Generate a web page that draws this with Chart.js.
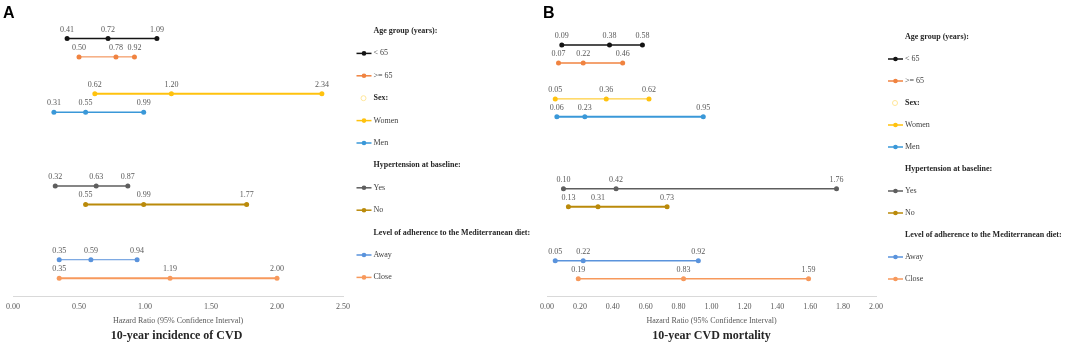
<!DOCTYPE html>
<html lang="en">
<head>
<meta charset="UTF-8" />
<title>Hazard ratios - CVD incidence and mortality</title>
<script src="https://cdn.jsdelivr.net/npm/chart.js"></script>
<style>
  body { margin: 0; background: #fff; width: 1065px; height: 344px; position: relative; overflow: hidden; }
  canvas { position: absolute; top: 0; }
  .tag { position: absolute; top: 5px; font: bold 16px "Liberation Sans", Arial, sans-serif; line-height: 16px; color: #000; }
</style>
</head>
<body>
<canvas id="chartA" width="545" height="344" style="left:0"></canvas>
<canvas id="chartB" width="535" height="344" style="left:530px"></canvas>
<div class="tag" style="left:3px">A</div>
<div class="tag" style="left:543px">B</div>
<script>
  // rows of the plot, blanks are spacing between groups
  const rowLabels = ['< 65', '>= 65', '', 'Women', 'Men', '', '', '', 'Yes', 'No', '', '', 'Away', 'Close'];
  const seriesNames = ['< 65', '>= 65', 'Women', 'Men', 'Yes', 'No', 'Away', 'Close'];
  const groupTitles = ['Age group (years):', 'Sex:', 'Hypertension at baseline:', 'Level of adherence to the Mediterranean diet:'];

  // 10-year incidence of CVD: HR with 95% CI
  const incLower = [0.41, 0.50, 0.62, 0.31, 0.32, 0.55, 0.35, 0.35];
  const incHR    = [0.72, 0.78, 1.20, 0.55, 0.63, 0.99, 0.59, 1.19];
  const incUpper = [1.09, 0.92, 2.34, 0.99, 0.87, 1.77, 0.94, 2.00];

  // 10-year CVD mortality: HR with 95% CI
  const mortLower = [0.09, 0.07, 0.05, 0.06, 0.10, 0.13, 0.05, 0.19];
  const mortHR    = [0.38, 0.22, 0.36, 0.23, 0.42, 0.31, 0.22, 0.83];
  const mortUpper = [0.58, 0.46, 0.62, 0.95, 1.76, 0.73, 0.92, 1.59];

  const colors = ['#141414', '#F08340', '#FFC20E', '#3A98D8', '#5E5E5E', '#BA8A0A', '#5A93DC', '#F7995C'];
  const widthsA = [1.5, 1, 2, 1.5, 1.5, 2, 1, 2];
  const widthsB = [1.5, 1.5, 1, 2, 1.5, 2, 1.5, 1.5];

  const serif = '"Liberation Serif", "Times New Roman", serif';

  function buildDatasets(lower, hr, upper, widths) {
    return seriesNames.map((name, i) => {
      const row = rowLabels.indexOf(name);
      return {
        label: name,
        data: [
          { x: lower[i], y: row },
          { x: hr[i], y: row },
          { x: upper[i], y: row }
        ],
        showLine: true,
        borderColor: colors[i],
        backgroundColor: colors[i],
        borderWidth: widths[i],
        pointRadius: 2.5,
        pointBorderWidth: 0,
        pointHoverRadius: 2.5
      };
    });
  }

  // numbers above every point
  const valueLabels = {
    id: 'valueLabels',
    afterDatasetsDraw(chart) {
      const ctx = chart.ctx;
      ctx.save();
      ctx.font = '8px ' + serif;
      ctx.fillStyle = '#595959';
      ctx.textAlign = 'center';
      ctx.textBaseline = 'middle';
      chart.data.datasets.forEach((ds, i) => {
        chart.getDatasetMeta(i).data.forEach((pt, j) => {
          ctx.fillText(ds.data[j].x.toFixed(2), pt.x, pt.y - 9);
        });
      });
      ctx.restore();
    }
  };

  // legend on the right with group headings
  const sideLegend = {
    id: 'sideLegend',
    afterDraw(chart, args, opts) {
      const ctx = chart.ctx;
      const area = chart.chartArea;
      const x0 = area.right + opts.offset;
      let y = area.top + opts.first;
      ctx.save();
      ctx.textAlign = 'left';
      ctx.textBaseline = 'middle';
      groupTitles.forEach((title, g) => {
        ctx.font = 'bold 8px ' + serif;
        ctx.fillStyle = '#262626';
        ctx.fillText(title, x0 + 17, y);
        if (g === 1) {
          ctx.strokeStyle = '#FFE699';
          ctx.lineWidth = 1;
          ctx.beginPath();
          ctx.arc(x0 + 7, y, 2.5, 0, Math.PI * 2);
          ctx.stroke();
        }
        y += opts.step;
        [2 * g, 2 * g + 1].forEach(i => {
          const ds = chart.data.datasets[i];
          ctx.strokeStyle = ds.borderColor;
          ctx.fillStyle = ds.borderColor;
          ctx.lineWidth = 1.5;
          ctx.beginPath();
          ctx.moveTo(x0, y);
          ctx.lineTo(x0 + 15, y);
          ctx.stroke();
          ctx.beginPath();
          ctx.arc(x0 + 7.5, y, 2.3, 0, Math.PI * 2);
          ctx.fill();
          ctx.font = '8px ' + serif;
          ctx.fillStyle = '#404040';
          ctx.fillText(ds.label, x0 + 17, y);
          y += opts.step;
        });
      });
      ctx.restore();
    }
  };

  function makeChart(id, datasets, cfg) {
    return new Chart(document.getElementById(id), {
      type: 'scatter',
      data: { datasets },
      options: {
        responsive: false,
        animation: false,
        events: [],
        layout: { padding: cfg.padding },
        plugins: {
          legend: { display: false },
          tooltip: { enabled: false },
          title: {
            display: true,
            position: 'bottom',
            text: cfg.title,
            color: '#262626',
            font: { family: serif, size: 12, weight: 'bold' },
            padding: { top: 4, bottom: 0 }
          },
          sideLegend: cfg.legend
        },
        scales: {
          x: {
            type: 'linear',
            min: 0,
            max: cfg.max,
            grid: { display: false, drawTicks: false },
            border: { color: '#D9D9D9', width: 1 },
            ticks: {
              stepSize: cfg.step,
              autoSkip: false,
              maxRotation: 0,
              padding: 6,
              color: '#595959',
              font: { family: serif, size: 8, lineHeight: 1 },
              callback: v => v.toFixed(2)
            },
            title: {
              display: true,
              text: 'Hazard Ratio (95% Confidence Interval)',
              color: '#595959',
              font: { family: serif, size: 8, lineHeight: 1 },
              padding: { top: 0, bottom: 0 }
            }
          },
          y: { type: 'linear', reverse: true, min: -1, max: 14, display: false }
        }
      },
      plugins: [valueLabels, sideLegend]
    });
  }

  makeChart('chartA', buildDatasets(incLower, incHR, incUpper, widthsA), {
    title: '10-year incidence of CVD',
    max: 2.5,
    step: 0.5,
    padding: { left: 10, right: 202, top: 20, bottom: 1 },
    legend: { offset: 13.5, first: 11, step: 22.4 }
  });

  makeChart('chartB', buildDatasets(mortLower, mortHR, mortUpper, widthsB), {
    title: '10-year CVD mortality',
    max: 2.0,
    step: 0.2,
    padding: { left: 17, right: 189, top: 27, bottom: 1 },
    legend: { offset: 12, first: 10, step: 22 }
  });
</script>
</body>
</html>
